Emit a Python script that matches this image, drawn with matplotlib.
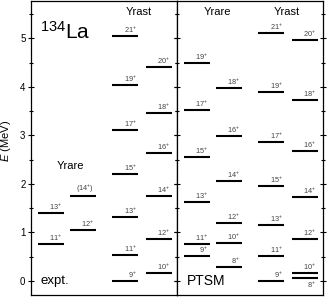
import matplotlib
matplotlib.use("Agg")
import matplotlib.pyplot as plt
from matplotlib.ticker import MultipleLocator

plt.rcParams['font.family'] = ['Liberation Sans', 'DejaVu Sans']
plt.rcParams['mathtext.fontset'] = 'custom'
plt.rcParams['mathtext.rm'] = 'Liberation Sans'
plt.rcParams['mathtext.it'] = 'Liberation Sans:italic'

# level energies (MeV); spins are positive parity
expt_yrare_odd_spin = [11, 13]
expt_yrare_odd_E = [0.76, 1.40]
expt_yrare_even_spin = [12, 14]
expt_yrare_even_E = [1.05, 1.76]
expt_yrast_odd_spin = [9, 11, 13, 15, 17, 19, 21]
expt_yrast_odd_E = [0.0, 0.54, 1.31, 2.20, 3.11, 4.03, 5.05]
expt_yrast_even_spin = [10, 12, 14, 16, 18, 20]
expt_yrast_even_E = [0.16, 0.87, 1.75, 2.63, 3.46, 4.41]

ptsm_yrare_odd_spin = [9, 11, 13, 15, 17, 19]
ptsm_yrare_odd_E = [0.52, 0.77, 1.62, 2.55, 3.53, 4.49]
ptsm_yrare_even_spin = [8, 10, 12, 14, 16, 18]
ptsm_yrare_even_E = [0.29, 0.78, 1.20, 2.07, 2.98, 3.97]
ptsm_yrast_odd_spin = [9, 11, 13, 15, 17, 19, 21]
ptsm_yrast_odd_E = [0.0, 0.52, 1.16, 1.95, 2.86, 3.90, 5.11]
ptsm_yrast_even_spin = [8, 10, 12, 14, 16, 18, 20]
ptsm_yrast_even_E = [0.06, 0.16, 0.87, 1.73, 2.67, 3.73, 4.96]

tentative = [14]          # expt yrare (14+)
below_label = [8]         # ptsm yrast 8+ labelled under its line

col_x = [1.35, 3.55, 6.45, 8.75]
half_w = 0.9


def draw_band(ax, x0, spins, energies, tent=(), below=()):
    for J, E in zip(spins, energies):
        ax.plot([x0 - half_w, x0 + half_w], [E, E], color='k', lw=1.5,
                solid_capstyle='butt')
        lab = r'%d$^{+}$' % J
        if J in tent:
            lab = r'(%d$^{+}$)' % J
        if J in below:
            ax.text(x0 + half_w - 0.12, E - 0.04, lab, ha='right', va='top',
                    fontsize=5.3, color='#444444')
        else:
            ax.text(x0 + half_w - 0.12, E + 0.02, lab, ha='right',
                    va='bottom', fontsize=5.3, color='#444444')


fig = plt.figure(figsize=(3.28, 3.0), dpi=100)
ax1 = fig.add_axes([31 / 328, 5 / 300, 146 / 328, 294 / 300])
ax2 = fig.add_axes([177 / 328, 5 / 300, 146 / 328, 294 / 300])

for ax in (ax1, ax2):
    ax.set_xlim(0, 10)
    ax.set_ylim(-0.29, 5.77)
    ax.set_xticks([])
    ax.yaxis.set_major_locator(MultipleLocator(1))
    ax.yaxis.set_minor_locator(MultipleLocator(0.5))
    ax.tick_params(axis='y', which='both', left=True, right=True,
                   direction='inout', labelsize=7, pad=1.5)
    ax.tick_params(axis='y', which='major', length=5, width=0.8)
    ax.tick_params(axis='y', which='minor', length=3, width=0.8)
    for s in ax.spines.values():
        s.set_linewidth(0.9)

ax2.tick_params(axis='y', labelleft=False)

draw_band(ax1, col_x[0], expt_yrare_odd_spin, expt_yrare_odd_E)
draw_band(ax1, col_x[1], expt_yrare_even_spin, expt_yrare_even_E, tent=tentative)
draw_band(ax1, col_x[2], expt_yrast_odd_spin, expt_yrast_odd_E)
draw_band(ax1, col_x[3], expt_yrast_even_spin, expt_yrast_even_E)

draw_band(ax2, col_x[0], ptsm_yrare_odd_spin, ptsm_yrare_odd_E)
draw_band(ax2, col_x[1], ptsm_yrare_even_spin, ptsm_yrare_even_E)
draw_band(ax2, col_x[2], ptsm_yrast_odd_spin, ptsm_yrast_odd_E)
draw_band(ax2, col_x[3], ptsm_yrast_even_spin, ptsm_yrast_even_E, below=below_label)

ax1.text(0.62, 5.0, r'$^{134}$La', fontsize=15, ha='left', va='baseline')
ax1.text(0.62, 0.0, 'expt.', fontsize=9.5, ha='left', va='center')
ax2.text(0.65, 0.0, 'PTSM', fontsize=10, ha='left', va='center')

ax1.text(2.72, 2.36, 'Yrare', fontsize=8, ha='center', va='center')
ax1.text(7.4, 5.54, 'Yrast', fontsize=8, ha='center', va='center')
ax2.text(2.8, 5.54, 'Yrare', fontsize=8, ha='center', va='center')
ax2.text(7.5, 5.54, 'Yrast', fontsize=8, ha='center', va='center')

ax1.set_ylabel(r'$E$ (MeV)', fontsize=8)
ax1.yaxis.set_label_coords(-0.125, 0.524)

fig.savefig('out.png', dpi=100)
